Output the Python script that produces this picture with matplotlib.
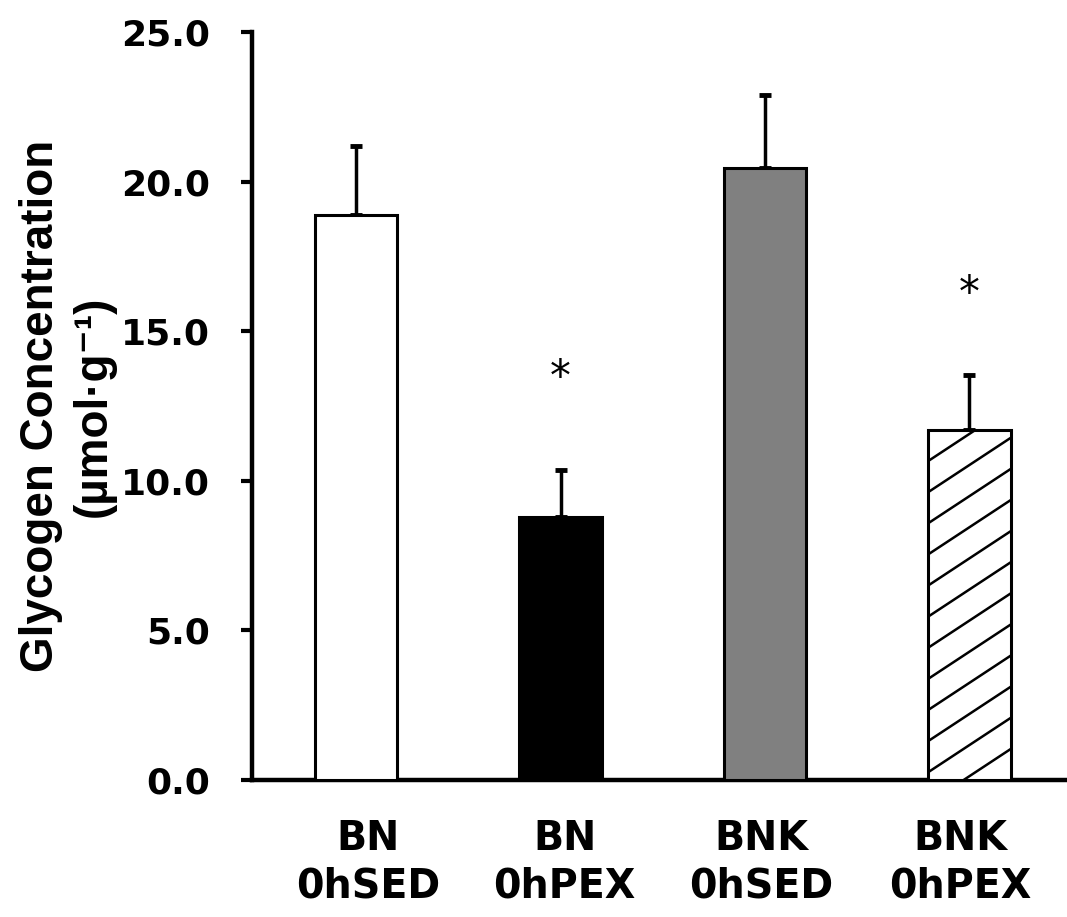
import numpy as np
import matplotlib
matplotlib.use('Agg')
import matplotlib.pyplot as plt

# Data
# ----
groups = ['BN\n0hSED', 'BN\n0hPEX', 'BNK\n0hSED', 'BNK\n0hPEX']
means = [18.9, 8.8, 20.45, 11.7]
errors = [2.3, 1.55, 2.45, 1.85]
star_y = [None, 13.6, None, 16.4]   # asterisk heights (significance)
colors = ['white', 'black', '#808080', 'white']
yticks = [0.0, 5.0, 10.0, 15.0, 20.0, 25.0]


def createPlot():
    fig = plt.figure(figsize=(10.67, 9.17), dpi=100)
    ax = fig.add_axes([252 / 1067, 137 / 917, 1 - 252 / 1067, 748 / 917])

    x = np.arange(len(groups))
    bars = ax.bar(x, means, width=0.405, color=colors, edgecolor='black',
                  linewidth=2.2, zorder=3)
    ax.errorbar(x, means, yerr=[np.zeros(len(means)), errors], fmt='none',
                ecolor='black', elinewidth=2.5, capsize=4, capthick=3.5, zorder=2)

    # custom shallow diagonal hatch on the last bar
    b = bars[3]
    x0, w = b.get_x(), b.get_width()
    slope = 4.5          # data-y per data-x
    step = 1.04          # vertical spacing in data units
    for c in np.arange(-slope * w, means[3] + step, step):
        ln, = ax.plot([x0, x0 + w], [c, c + slope * w], color='black', lw=1.8,
                      zorder=4, solid_capstyle='butt')
        ln.set_clip_path(b)

    for xi, sy in zip(x, star_y):
        if sy is not None:
            ax.text(xi, sy, '*', ha='center', va='center_baseline',
                    fontsize=30, fontfamily='DejaVu Sans')

    ax.set_xlim(-0.509, 3.477)
    ax.set_ylim(0, 25)
    ax.set_yticks(yticks)
    ax.set_yticklabels(['%.1f' % t for t in yticks], fontsize=26,
                       fontweight='bold', fontfamily='DejaVu Sans')
    # category labels sit slightly off the bar centres, like the original
    ax.set_xticks(x + np.array([0.06, 0.02, -0.02, -0.045]))
    ax.set_xticklabels(groups, fontsize=28.5, fontweight='bold',
                       fontfamily='DejaVu Sans', linespacing=1.25)
    ax.tick_params(axis='x', length=0, pad=28)
    ax.tick_params(axis='y', length=8, width=3, direction='out', pad=22)
    for side in ['top', 'right']:
        ax.spines[side].set_visible(False)
    for side in ['left', 'bottom']:
        ax.spines[side].set_linewidth(3.2)

    ax.set_ylabel('Glycogen Concentration\n(µmol·g⁻¹)', fontsize=33,
                  fontweight='bold', fontfamily=['Liberation Sans', 'DejaVu Sans'],
                  linespacing=1.25)
    ax.yaxis.set_label_coords(-0.167, 0.5)

    plt.savefig('out.png', dpi=100)


if __name__ == "__main__":
    createPlot()
